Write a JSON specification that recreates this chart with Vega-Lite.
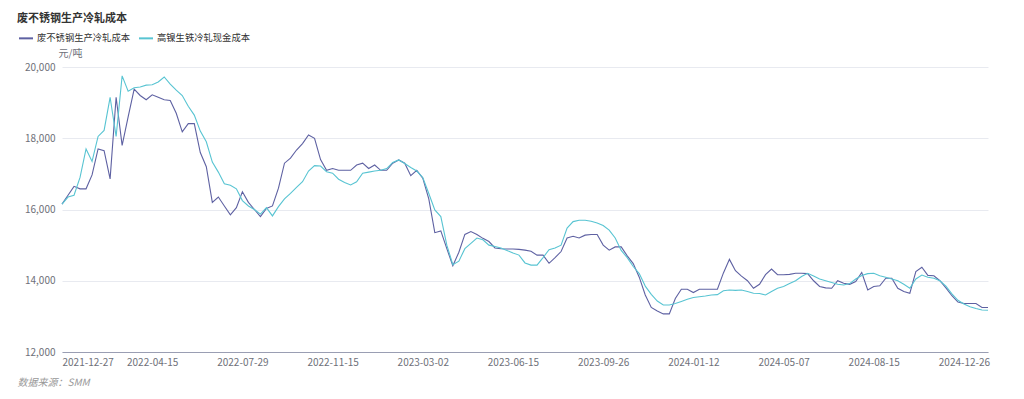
{
  "$schema": "https://vega.github.io/schema/vega-lite/v6.json",
  "width": 926,
  "height": 285,
  "autosize": {"type": "none"},
  "padding": {"left": 62, "top": 67, "right": 36, "bottom": 47},
  "background": "#ffffff",
  "title": {"text": "废不锈钢生产冷轧成本", "anchor": "start", "frame": "group", "dx": -45, "offset": 6, "fontSize": 11, "fontWeight": "bold", "color": "#333333", "font": "Noto Sans CJK SC"},
  "config": {"font": "Noto Sans CJK SC", "view": {"stroke": null}},
  "data": {"values": [
    {"d":"2021-12-27","a":16150,"b":16150},
    {"d":"2022-01-04","a":16400,"b":16350},
    {"d":"2022-01-11","a":16650,"b":16400},
    {"d":"2022-01-18","a":16580,"b":16900},
    {"d":"2022-01-25","a":16580,"b":17700},
    {"d":"2022-02-08","a":16970,"b":17350},
    {"d":"2022-02-15","a":17700,"b":18050},
    {"d":"2022-02-22","a":17650,"b":18220},
    {"d":"2022-03-01","a":16860,"b":19150},
    {"d":"2022-03-08","a":19150,"b":18050},
    {"d":"2022-03-15","a":17800,"b":19750},
    {"d":"2022-03-22","a":18600,"b":19320},
    {"d":"2022-03-29","a":19380,"b":19420},
    {"d":"2022-04-06","a":19200,"b":19440},
    {"d":"2022-04-11","a":19080,"b":19490},
    {"d":"2022-04-15","a":19220,"b":19500},
    {"d":"2022-04-22","a":19150,"b":19580},
    {"d":"2022-04-29","a":19080,"b":19720},
    {"d":"2022-05-06","a":19060,"b":19520},
    {"d":"2022-05-13","a":18700,"b":19350},
    {"d":"2022-05-20","a":18180,"b":19200},
    {"d":"2022-05-27","a":18410,"b":18900},
    {"d":"2022-06-03","a":18410,"b":18650},
    {"d":"2022-06-10","a":17600,"b":18200},
    {"d":"2022-06-17","a":17200,"b":17900},
    {"d":"2022-06-24","a":16200,"b":17330},
    {"d":"2022-07-01","a":16350,"b":17050},
    {"d":"2022-07-08","a":16100,"b":16720},
    {"d":"2022-07-15","a":15850,"b":16680},
    {"d":"2022-07-22","a":16050,"b":16580},
    {"d":"2022-07-29","a":16500,"b":16250},
    {"d":"2022-08-05","a":16200,"b":16100},
    {"d":"2022-08-12","a":16000,"b":16000},
    {"d":"2022-08-19","a":15800,"b":15870},
    {"d":"2022-08-26","a":16030,"b":16050},
    {"d":"2022-09-02","a":16100,"b":15820},
    {"d":"2022-09-09","a":16600,"b":16080},
    {"d":"2022-09-16","a":17300,"b":16300},
    {"d":"2022-09-23","a":17440,"b":16450},
    {"d":"2022-09-30","a":17670,"b":16620},
    {"d":"2022-10-10","a":17850,"b":16780},
    {"d":"2022-10-17","a":18090,"b":17080},
    {"d":"2022-10-24","a":18000,"b":17230},
    {"d":"2022-10-31","a":17400,"b":17220},
    {"d":"2022-11-07","a":17100,"b":17060},
    {"d":"2022-11-15","a":17150,"b":17020},
    {"d":"2022-11-22","a":17100,"b":16850},
    {"d":"2022-11-29","a":17100,"b":16760},
    {"d":"2022-12-06","a":17100,"b":16690},
    {"d":"2022-12-13","a":17250,"b":16780},
    {"d":"2022-12-20","a":17300,"b":17020},
    {"d":"2022-12-27","a":17150,"b":17050},
    {"d":"2023-01-03","a":17250,"b":17080},
    {"d":"2023-01-10","a":17100,"b":17100},
    {"d":"2023-01-17","a":17100,"b":17150},
    {"d":"2023-01-30","a":17300,"b":17320},
    {"d":"2023-02-06","a":17390,"b":17390},
    {"d":"2023-02-13","a":17300,"b":17290},
    {"d":"2023-02-20","a":16950,"b":17180},
    {"d":"2023-02-24","a":17100,"b":17080},
    {"d":"2023-03-02","a":16880,"b":16900},
    {"d":"2023-03-09","a":16300,"b":16450},
    {"d":"2023-03-16","a":15350,"b":15990},
    {"d":"2023-03-23","a":15400,"b":15800},
    {"d":"2023-03-30","a":14900,"b":15000},
    {"d":"2023-04-06","a":14420,"b":14450},
    {"d":"2023-04-13","a":14800,"b":14550},
    {"d":"2023-04-20","a":15300,"b":14900},
    {"d":"2023-04-27","a":15380,"b":15050},
    {"d":"2023-05-04","a":15300,"b":15200},
    {"d":"2023-05-11","a":15190,"b":15150},
    {"d":"2023-05-18","a":15100,"b":15000},
    {"d":"2023-05-25","a":14920,"b":14960},
    {"d":"2023-06-01","a":14900,"b":14920},
    {"d":"2023-06-08","a":14890,"b":14850},
    {"d":"2023-06-15","a":14890,"b":14780},
    {"d":"2023-06-21","a":14880,"b":14720},
    {"d":"2023-06-28","a":14860,"b":14500},
    {"d":"2023-07-05","a":14830,"b":14440},
    {"d":"2023-07-12","a":14720,"b":14440},
    {"d":"2023-07-19","a":14720,"b":14650},
    {"d":"2023-07-26","a":14490,"b":14870},
    {"d":"2023-08-02","a":14650,"b":14920},
    {"d":"2023-08-09","a":14820,"b":15000},
    {"d":"2023-08-16","a":15200,"b":15480},
    {"d":"2023-08-23","a":15250,"b":15660},
    {"d":"2023-08-30","a":15200,"b":15700},
    {"d":"2023-09-06","a":15280,"b":15700},
    {"d":"2023-09-13","a":15300,"b":15670},
    {"d":"2023-09-19","a":15300,"b":15620},
    {"d":"2023-09-26","a":15000,"b":15550},
    {"d":"2023-10-09","a":14860,"b":15420},
    {"d":"2023-10-16","a":14950,"b":15200},
    {"d":"2023-10-23","a":14950,"b":14850},
    {"d":"2023-10-30","a":14700,"b":14650},
    {"d":"2023-11-06","a":14480,"b":14400},
    {"d":"2023-11-13","a":14100,"b":14200},
    {"d":"2023-11-20","a":13600,"b":13850},
    {"d":"2023-11-27","a":13250,"b":13620},
    {"d":"2023-12-04","a":13150,"b":13430},
    {"d":"2023-12-11","a":13070,"b":13320},
    {"d":"2023-12-18","a":13070,"b":13320},
    {"d":"2023-12-25","a":13500,"b":13360},
    {"d":"2024-01-02","a":13760,"b":13420},
    {"d":"2024-01-08","a":13760,"b":13480},
    {"d":"2024-01-12","a":13670,"b":13530},
    {"d":"2024-01-19","a":13760,"b":13550},
    {"d":"2024-01-26","a":13760,"b":13570},
    {"d":"2024-02-02","a":13760,"b":13600},
    {"d":"2024-02-19","a":13760,"b":13610},
    {"d":"2024-02-26","a":14220,"b":13720},
    {"d":"2024-03-04","a":14600,"b":13740},
    {"d":"2024-03-11","a":14280,"b":13730},
    {"d":"2024-03-18","a":14130,"b":13740},
    {"d":"2024-03-25","a":14000,"b":13700},
    {"d":"2024-04-01","a":13790,"b":13650},
    {"d":"2024-04-08","a":13900,"b":13640},
    {"d":"2024-04-15","a":14170,"b":13600},
    {"d":"2024-04-22","a":14330,"b":13700},
    {"d":"2024-04-29","a":14170,"b":13790},
    {"d":"2024-05-07","a":14170,"b":13840},
    {"d":"2024-05-14","a":14180,"b":13920},
    {"d":"2024-05-21","a":14210,"b":14000},
    {"d":"2024-05-28","a":14210,"b":14120},
    {"d":"2024-06-04","a":14200,"b":14210},
    {"d":"2024-06-11","a":14000,"b":14130},
    {"d":"2024-06-18","a":13840,"b":14050},
    {"d":"2024-06-25","a":13800,"b":14000},
    {"d":"2024-07-02","a":13790,"b":13950},
    {"d":"2024-07-09","a":14000,"b":13900},
    {"d":"2024-07-16","a":13930,"b":13880},
    {"d":"2024-07-23","a":13900,"b":13920},
    {"d":"2024-07-30","a":13980,"b":14050},
    {"d":"2024-08-06","a":14230,"b":14150},
    {"d":"2024-08-12","a":13740,"b":14200},
    {"d":"2024-08-15","a":13840,"b":14210},
    {"d":"2024-08-23","a":13860,"b":14140},
    {"d":"2024-08-30","a":14070,"b":14100},
    {"d":"2024-09-06","a":14070,"b":14050},
    {"d":"2024-09-13","a":13790,"b":14000},
    {"d":"2024-09-23","a":13700,"b":13900},
    {"d":"2024-10-08","a":13650,"b":13790},
    {"d":"2024-10-16","a":14260,"b":14050},
    {"d":"2024-10-24","a":14380,"b":14160},
    {"d":"2024-11-01","a":14150,"b":14100},
    {"d":"2024-11-11","a":14140,"b":14070},
    {"d":"2024-11-19","a":14000,"b":14000},
    {"d":"2024-11-27","a":13800,"b":13850},
    {"d":"2024-12-05","a":13580,"b":13630},
    {"d":"2024-12-16","a":13400,"b":13450},
    {"d":"2024-12-26","a":13360,"b":13350},
    {"d":"2025-01-03","a":13360,"b":13270},
    {"d":"2025-01-10","a":13360,"b":13220},
    {"d":"2025-01-17","a":13250,"b":13180},
    {"d":"2025-01-24","a":13250,"b":13170}
  ]},
  "transform": [{"fold": ["a", "b"], "as": ["s", "v"]}],
  "mark": {"type": "line", "strokeWidth": 1.1, "interpolate": "linear"},
  "encoding": {
    "x": {
      "field": "d", "type": "ordinal",
      "scale": {"type": "point", "padding": 0},
      "axis": {
        "values": ["2021-12-27","2022-04-15","2022-07-29","2022-11-15","2023-03-02","2023-06-15","2023-09-26","2024-01-12","2024-05-07","2024-08-15","2024-12-26"],
        "labelAngle": 0, "labelFlush": true, "labelFontSize": 10, "labelColor": "#6E7079", "labelPadding": 5,
        "ticks": false, "grid": false, "domainColor": "#9A9EB3", "domainWidth": 1,
        "title": "数据来源：SMM", "titleX": -45, "titleY": 30, "titleAlign": "left", "titleBaseline": "middle",
        "titleFontSize": 10, "titleFontWeight": "normal", "titleFontStyle": "italic", "titleColor": "#999999"
      }
    },
    "y": {
      "field": "v", "type": "quantitative",
      "scale": {"domain": [12000, 20000], "nice": false, "zero": false},
      "axis": {
        "values": [12000, 14000, 16000, 18000, 20000], "format": ",.0f",
        "labelFontSize": 10, "labelColor": "#6E7079", "labelPadding": 7,
        "ticks": false, "domain": false, "grid": true, "gridColor": "#E8EAF0",
        "title": "元/吨", "titleAngle": 0, "titleX": 8, "titleY": -14, "titleAlign": "center", "titleBaseline": "middle",
        "titleFontSize": 10, "titleFontWeight": "normal", "titleColor": "#6E7079"
      }
    },
    "color": {
      "field": "s", "type": "nominal",
      "scale": {"domain": ["a", "b"], "range": ["#5E61A2", "#58C4D2"]},
      "legend": {
        "orient": "none", "legendX": -44, "legendY": -37, "direction": "horizontal", "title": null,
        "symbolType": "stroke", "symbolSize": 196, "symbolStrokeWidth": 2,
        "labelFontSize": 9.3, "labelColor": "#333333", "labelOffset": 3, "columnPadding": 5,
        "labelExpr": "datum.label == 'a' ? '废不锈钢生产冷轧成本' : '高镍生铁冷轧现金成本'"
      }
    }
  }
}
